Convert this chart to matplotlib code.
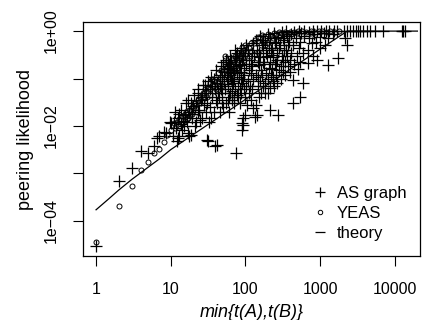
import matplotlib
matplotlib.use('Agg')
import matplotlib.pyplot as plt
from matplotlib.lines import Line2D

plt.rcParams['font.family'] = ['Liberation Sans', 'DejaVu Sans']

# AS graph points
as_x = [
    1, 2, 3, 4, 5, 6, 6.5, 7, 8, 8.6, 9.8, 10,
    10.6, 11, 11.5, 12, 12.4, 11.7, 12.6, 13, 13.5, 12.8, 14, 14.4, 13.7, 15.5, 15, 16,
    17, 16.5, 17.5, 16.8, 17.8, 18.6, 19, 18.6, 20, 21, 19.5, 20.5,
    22, 22.8, 21.5, 23, 24.7, 24, 25.5, 23.5, 27.3, 26.5, 27.8, 26, 28.8, 29.5, 30,
    30.3, 31.8, 32, 31, 33, 31.5, 35, 34, 36, 35.5, 34.5, 39, 38, 40, 39.5, 37.5, 40.5,
    41, 42, 43, 41.5,
    45, 44, 46, 45.5, 47, 50, 49, 51, 52, 50.5, 55, 54, 56, 57, 55.5,
    60, 61, 59, 62, 60.5, 61.5, 66, 65, 67, 68, 64, 72.6, 71, 73, 70, 74,
    74.8, 76, 77, 75.5, 80, 79, 82, 81, 78, 89, 89, 87, 90, 88, 91, 86,
    93, 93.5, 95, 94, 96, 92, 98.6, 104, 100, 102, 97, 101, 99, 103,
    110, 108, 112, 111, 107, 126, 124, 128, 122, 130, 125, 134,
    142, 140, 145, 138, 146, 143, 139, 160, 157, 163, 155, 165, 158,
    183, 180, 186, 178, 188, 182, 200, 198, 204, 195, 206, 202,
    214, 212, 218, 210, 220, 216, 240, 236, 245, 232, 248, 242,
    273, 268, 278, 265, 280, 270, 300, 295, 305, 290, 310,
    340, 335, 348, 330, 345, 400, 392, 408, 385, 410, 438, 438, 445, 430, 450,
    500, 490, 515, 480, 520, 538, 545, 530, 550, 596, 590, 605, 610,
    695, 680, 710, 700, 800, 780, 820, 790, 901, 880, 920, 1000, 980, 1020,
    1150, 1120, 1180, 1290, 1260, 1320, 1480, 1520, 1750, 1700, 2150, 2100,
    2270, 2300,
    2500, 2780, 3000, 3200, 3460, 3760, 4170, 4640, 5430, 6990, 12400, 13000, 13700,
    48, 47.5, 49, 58, 57.5, 58.5, 59, 63, 63.5, 62.5, 70, 69, 70.5, 71.5,
    85, 84, 86, 85.5, 83, 118, 116, 120, 117, 121, 150, 148, 152, 151,
    170, 168, 172, 169, 174, 230, 228, 233, 226, 260, 256, 263, 258,
    320, 315, 325, 318, 370, 365, 375, 360,
]
as_y = [
    2.9e-5, 7e-4, 1.3e-3, 3e-3, 2.7e-3, 3.8e-3, 5.5e-3, 6e-3, 7.6e-3, 7e-3, 0.0123, 0.0114,
    0.006, 0.012, 0.02, 0.0047, 0.0055, 0.009, 0.015, 0.006, 0.011, 0.018, 0.008, 0.013, 0.022, 0.017, 0.010, 0.03,
    0.007, 0.012, 0.02, 0.035, 0.006, 0.0065, 0.015, 0.03, 0.026, 0.01, 0.018, 0.045,
    0.012, 0.02, 0.03, 0.05, 0.0134, 0.022, 0.035, 0.06, 0.073, 0.015, 0.028, 0.04, 0.073, 0.02, 0.05,
    0.0051, 0.0047, 0.012, 0.03, 0.06, 0.09, 0.015, 0.025, 0.04, 0.07, 0.11, 0.0037, 0.02, 0.035, 0.06, 0.1, 0.15,
    0.004, 0.03, 0.05, 0.08,
    0.02, 0.04, 0.07, 0.12, 0.18, 0.025, 0.05, 0.09, 0.14, 0.22, 0.03, 0.06, 0.1, 0.16, 0.25,
    0.02, 0.04, 0.075, 0.12, 0.2, 0.3, 0.035, 0.055, 0.09, 0.15, 0.25, 0.4, 0.03, 0.06, 0.1, 0.18,
    0.00266, 0.045, 0.13, 0.3, 0.04, 0.07, 0.11, 0.2, 0.35, 0.0114, 0.0082, 0.05, 0.08, 0.14, 0.25, 0.45,
    0.0148, 0.0105, 0.06, 0.1, 0.17, 0.3, 0.017, 0.028, 0.04, 0.07, 0.12, 0.2, 0.35, 0.5,
    0.05, 0.09, 0.15, 0.25, 0.4, 0.024, 0.06, 0.1, 0.18, 0.3, 0.55, 0.0157,
    0.017, 0.028, 0.07, 0.12, 0.22, 0.4, 0.65, 0.05, 0.09, 0.15, 0.28, 0.5, 0.8,
    0.049, 0.08, 0.13, 0.2, 0.35, 0.6, 0.0495, 0.1, 0.17, 0.3, 0.45, 0.85,
    0.0216, 0.062, 0.12, 0.22, 0.4, 0.7, 0.07, 0.11, 0.2, 0.32, 0.55, 0.9,
    0.017, 0.08, 0.15, 0.25, 0.45, 0.75, 0.1, 0.18, 0.3, 0.5, 0.95,
    0.12, 0.22, 0.4, 0.65, 1.0, 0.14, 0.25, 0.35, 0.6, 0.85, 0.030, 0.093, 0.2, 0.5, 0.95,
    0.16, 0.3, 0.45, 0.7, 1.0, 0.041, 0.22, 0.6, 0.9, 0.079, 0.35, 0.8, 1.0,
    0.209, 0.4, 0.7, 0.95, 0.3, 0.55, 0.85, 1.0, 0.245, 0.6, 1.0, 0.76, 0.45, 1.0,
    0.5, 0.9, 1.0, 0.192, 0.7, 1.0, 0.85, 1.0, 0.266, 1.0, 0.70, 1.0,
    0.51, 1.0,
    1, 1, 1, 1, 1, 1, 1, 1, 1, 1, 1, 1, 1,
    0.03, 0.06, 0.11, 0.035, 0.07, 0.14, 0.22, 0.05, 0.1, 0.17, 0.04, 0.08, 0.13, 0.25,
    0.03, 0.06, 0.1, 0.19, 0.3, 0.035, 0.07, 0.13, 0.2, 0.35, 0.04, 0.11, 0.19, 0.35,
    0.07, 0.12, 0.22, 0.4, 0.65, 0.09, 0.16, 0.28, 0.45, 0.12, 0.2, 0.35, 0.6,
    0.14, 0.25, 0.4, 0.7, 0.18, 0.3, 0.5, 0.8,
]

# YEAS points
yeas_x = [
    1, 2, 3, 4, 5, 6, 7, 8, 9,
    10, 11, 11.3, 12, 13, 13.4, 14, 14.3, 15, 15.4, 16, 16.3, 17, 17.4, 18, 18.3, 19, 19.5, 20, 20.4,
    21, 22, 22.5, 23, 24.7, 24.2, 26, 26.5, 27, 28, 28.5, 30, 30.5, 31.8, 33, 33.5, 34,
    35.4, 35.8, 36.2, 37, 37.5, 38, 40, 40.6,
    43, 43.5, 45, 45.8, 47, 50, 49, 51, 53, 53.5, 56, 56.8, 59, 58, 62, 63, 65, 66,
    68, 69, 72, 71, 75, 76, 80, 81, 79, 85, 86, 89, 90, 95, 94, 98.6, 97,
    110, 112, 120, 118, 134, 132, 142, 149, 147, 157, 160, 170, 167, 180, 184,
    202, 198, 220, 224, 240, 236, 260, 280, 284, 300, 338, 332, 370, 400, 408,
    450, 500, 490, 570, 650, 750, 760, 850, 950, 1050, 1200, 1350, 1580, 1800,
]
yeas_y = [
    3.5e-5, 2.0e-4, 5.5e-4, 1.15e-3, 1.7e-3, 2.7e-3, 3.3e-3, 4.6e-3, 6.5e-3,
    0.008, 0.0114, 0.009, 0.012, 0.014, 0.01, 0.011, 0.016, 0.017, 0.013, 0.02, 0.014, 0.015, 0.022, 0.0216, 0.017, 0.025, 0.018, 0.022, 0.03,
    0.03, 0.028, 0.02, 0.035, 0.041, 0.03, 0.045, 0.033, 0.05, 0.04, 0.06, 0.055, 0.04, 0.067, 0.06, 0.045, 0.08,
    0.10, 0.093, 0.07, 0.075, 0.055, 0.09, 0.11, 0.06,
    0.128, 0.085, 0.1, 0.07, 0.15, 0.13, 0.07, 0.1, 0.30, 0.2, 0.18, 0.12, 0.226, 0.15, 0.16, 0.1, 0.25, 0.19,
    0.2, 0.13, 0.3, 0.22, 0.27, 0.16, 0.35, 0.25, 0.15, 0.3, 0.2, 0.47, 0.35, 0.4, 0.28, 0.507, 0.25,
    0.45, 0.3, 0.55, 0.38, 0.646, 0.55, 0.27, 0.37, 0.76, 0.76, 0.5, 0.6, 0.82, 0.7, 0.5,
    0.89, 0.55, 0.8, 0.65, 0.9, 0.7, 0.85, 0.95, 0.75, 0.9, 0.97, 0.8, 0.93, 0.98, 0.85,
    0.95, 1.0, 0.9, 1.0, 0.97, 1.0, 0.93, 0.98, 1.0, 1.0, 0.98, 1.0, 0.97, 1.0,
]

# theory curve
theory_x = [1, 1.5, 2, 3, 5, 7, 10, 20, 50, 100, 200, 500, 1000, 2300, 20000]
theory_y = [1.7e-4, 2.95e-4, 4.4e-4, 7.4e-4, 1.35e-3, 2.0e-3, 3.16e-3, 6.6e-3,
            0.0174, 0.0363, 0.0759, 0.20, 0.417, 1.0, 1.0]

xticks = [1, 10, 100, 1000, 10000]
xlabels = ['1', '10', '100', '1000', '10000']
yticks = [1e-4, 1e-3, 1e-2, 1e-1, 1]
ylabels = ['1e\u221204', '', '1e\u221202', '', '1e+00']

assert len(as_x) == len(as_y) and len(yeas_x) == len(yeas_y)

fig = plt.figure(figsize=(4.26, 3.2), dpi=100)
ax = fig.add_axes([0.195, 0.2, 0.791, 0.731])

ax.plot(as_x, as_y, ls='none', marker='+', ms=8, mew=0.9, color='k')
ax.plot(yeas_x, yeas_y, ls='none', marker='o', ms=3.6, mew=0.7, mfc='none', color='k')
ax.plot(theory_x, theory_y, color='k', lw=0.9)

ax.set_xscale('log')
ax.set_yscale('log')
ax.set_xlim(0.67, 21700)
ax.set_ylim(1.8e-5, 1.55)
ax.minorticks_off()
ax.set_xticks(xticks)
ax.set_xticklabels(xlabels)
ax.set_yticks(yticks)
ax.set_yticklabels(ylabels, rotation=90, va='center')
ax.tick_params(direction='out', length=7.5, width=0.8, labelsize=11.5)
ax.tick_params(axis='x', pad=11)
ax.tick_params(axis='y', pad=10)
for s in ax.spines.values():
    s.set_linewidth(0.9)

ax.set_xlabel('min{t(A),t(B)}', fontsize=13, style='italic', labelpad=5)
ax.set_ylabel('peering likelihood', fontsize=13, labelpad=7)

handles = [
    Line2D([], [], ls='none', marker='+', ms=7, mew=0.9, color='k'),
    Line2D([], [], ls='none', marker='o', ms=3.2, mew=0.7, mfc='none', color='k'),
    Line2D([], [], ls='none', marker='_', ms=7, mew=0.9, color='k'),
]
ax.legend(handles, ['AS graph', 'YEAS', 'theory'], loc='lower left',
          bbox_to_anchor=(0.634, 0.0), frameon=False, fontsize=12,
          handlelength=1, handletextpad=0.5, labelspacing=0.3)

plt.savefig('out.png', dpi=100)
